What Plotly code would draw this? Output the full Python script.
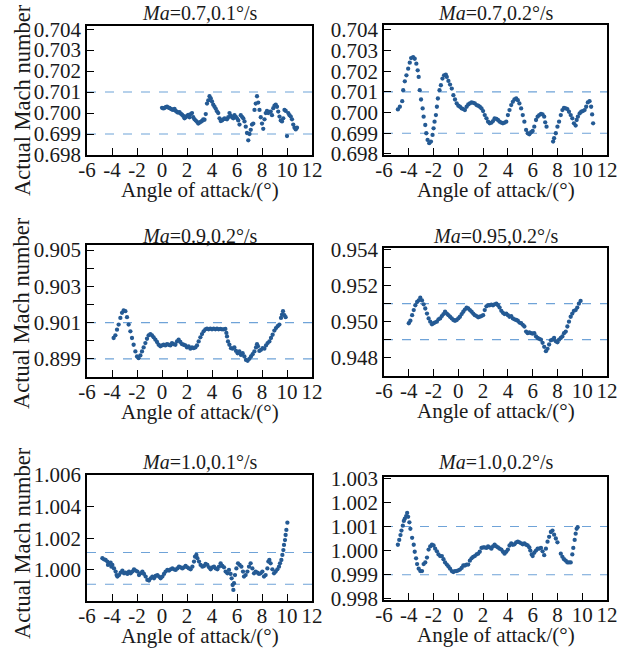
import plotly.graph_objects as go

# ---------------- data ----------------
titles = ["<i>Ma</i>=0.7,0.1°/s", "<i>Ma</i>=0.7,0.2°/s", "<i>Ma</i>=0.9,0.2°/s",
          "<i>Ma</i>=0.95,0.2°/s", "<i>Ma</i>=1.0,0.1°/s", "<i>Ma</i>=1.0,0.2°/s"]
x_title = "Angle of attack/(°)"
y_title = "Actual Mach number"
x_ticks = [-6, -4, -2, 0, 2, 4, 6, 8, 10, 12]
x_tick_labels = ["-6", "-4", "-2", "0", "2", "4", "6", "8", "10", "12"]

# tolerance band (upper, lower) per panel
band_upper = [0.701, 0.701, 0.901, 0.951, 1.0011, 1.001]
band_lower = [0.699, 0.699, 0.899, 0.949, 0.9991, 0.999]

p1_x = [0.0, 0.1, 0.2, 0.3, 0.4, 0.5, 0.6, 0.7, 0.8, 0.9, 1.0, 1.1, 1.2, 1.3, 1.4, 1.5, 1.6, 1.7, 1.8, 1.9,
        2.0, 2.1, 2.2, 2.3, 2.4, 2.5, 2.6, 2.7, 2.8, 2.9, 3.0, 3.1, 3.2, 3.3, 3.4, 3.5, 3.6, 3.7, 3.8, 3.9,
        4.0, 4.1, 4.2, 4.3, 4.4, 4.5, 4.6, 4.7, 4.8, 4.9, 5.0, 5.1, 5.2, 5.3, 5.4, 5.5, 5.6, 5.7, 5.8, 5.9,
        6.0, 6.1, 6.2, 6.3, 6.4, 6.5, 6.6, 6.7, 6.8, 6.9, 7.0, 7.1, 7.2, 7.3, 7.4, 7.5, 7.6, 7.7, 7.8, 7.9,
        8.0, 8.1, 8.2, 8.3, 8.4, 8.5, 8.6, 8.7, 8.8, 8.9, 9.0, 9.1, 9.2, 9.3, 9.4, 9.5, 9.6, 9.7, 9.8, 9.9,
        10.0, 10.1, 10.2, 10.3, 10.4, 10.5, 10.6, 10.7, 10.8]
p1_y = [0.70025, 0.70022, 0.70024, 0.70028, 0.70030, 0.70026, 0.70024, 0.70020, 0.70017, 0.70015,
        0.70020, 0.70010, 0.70005, 0.70002, 0.70004, 0.69997, 0.69992, 0.69986, 0.69975, 0.69980,
        0.69986, 0.69991, 0.69980, 0.69995, 0.70000, 0.69980, 0.69970, 0.69964, 0.69958, 0.69950,
        0.69954, 0.69958, 0.69962, 0.69970, 0.69968, 0.69995, 0.70045, 0.70060, 0.70080, 0.70070,
        0.70055, 0.70040, 0.70030, 0.70020, 0.70008, 0.70000, 0.69975, 0.69962, 0.69965, 0.69970,
        0.69975, 0.69972, 0.69970, 0.69980, 0.70000, 0.69988, 0.69980, 0.69975, 0.69990, 0.69982,
        0.69975, 0.69965, 0.69945, 0.69990, 0.69982, 0.69975, 0.69960, 0.69935, 0.69905, 0.69870,
        0.69900, 0.69920, 0.69945, 0.69950, 0.70015, 0.70045, 0.70080, 0.70050, 0.70015, 0.69980,
        0.69950, 0.69925, 0.69970, 0.70000, 0.70010, 0.70000, 0.70005, 0.70007, 0.69990, 0.70023,
        0.70035, 0.70040, 0.70030, 0.70007, 0.69983, 0.69965, 0.69960, 0.69975, 0.70015, 0.70010,
        0.69890, 0.70000, 0.69990, 0.69983, 0.69970, 0.69945, 0.69930, 0.69922, 0.69930]

p2_x = [-4.88, -4.72, -4.53, -4.45, -4.32, -4.19, -4.05, -3.92, -3.81, -3.65, -3.52, -3.39, -3.28, -3.20,
        -3.12, -3.01, -2.88, -2.80, -2.67, -2.59, -2.48, -2.35, -2.21, -2.08, -2.00, -1.92, -1.81, -1.73,
        -1.65, -1.52, -1.41, -1.28, -1.15, -1.01, -0.93, -0.80, -0.67, -0.53, -0.40, -0.27, -0.13, 0.00,
        0.13, 0.27, 0.40, 0.53, 0.67, 0.80, 0.93, 1.07, 1.20, 1.33, 1.47, 1.60, 1.73, 1.87, 2.00, 2.13,
        2.27, 2.40, 2.53, 2.67, 2.80, 2.93, 3.07, 3.20, 3.33, 3.47, 3.60, 3.73, 3.87, 4.00, 4.13, 4.27,
        4.40, 4.53, 4.67, 4.80, 4.93, 5.07, 5.20, 5.33, 5.47, 5.60, 5.73, 5.87, 6.00, 6.13, 6.27, 6.40,
        6.53, 6.67, 6.80, 6.93, 7.01, 7.12, 7.65, 7.73, 7.87, 8.00, 8.13, 8.27, 8.40, 8.53, 8.67, 8.80,
        8.93, 9.07, 9.20, 9.33, 9.47, 9.55, 9.65, 9.79, 9.92, 10.05, 10.19, 10.32, 10.45, 10.59, 10.72,
        10.80, 10.88]
p2_y = [0.70015, 0.70028, 0.70055, 0.70108, 0.70151, 0.70180, 0.70212, 0.70241, 0.70263, 0.70268, 0.70260,
        0.70236, 0.70204, 0.70172, 0.70108, 0.70063, 0.70020, 0.69980, 0.69940, 0.69900, 0.69868, 0.69852,
        0.69860, 0.69892, 0.69924, 0.69956, 0.69988, 0.70028, 0.70068, 0.70108, 0.70132, 0.70164, 0.70180,
        0.70183, 0.70172, 0.70153, 0.70135, 0.70116, 0.70084, 0.70063, 0.70044, 0.70033, 0.70028, 0.70020,
        0.70017, 0.70012, 0.70028, 0.70039, 0.70044, 0.70049, 0.70047, 0.70044, 0.70036, 0.70033, 0.70028,
        0.70020, 0.70007, 0.69988, 0.69972, 0.69956, 0.69948, 0.69951, 0.69959, 0.69972, 0.69969, 0.69964,
        0.69956, 0.69951, 0.69948, 0.69951, 0.69956, 0.69988, 0.70012, 0.70036, 0.70052, 0.70063, 0.70068,
        0.70060, 0.70044, 0.70020, 0.69988, 0.69956, 0.69916, 0.69900, 0.69895, 0.69905, 0.69911, 0.69932,
        0.69964, 0.69980, 0.69988, 0.69993, 0.69991, 0.69980, 0.69953, 0.69932, 0.69860, 0.69876, 0.69900,
        0.69932, 0.69956, 0.69988, 0.70012, 0.70023, 0.70020, 0.70017, 0.70004, 0.69988, 0.69972, 0.69948,
        0.69937, 0.69964, 0.69980, 0.69996, 0.70004, 0.70007, 0.70012, 0.70028, 0.70049, 0.70055, 0.70028,
        0.69991, 0.69948]

p3_x = [-3.87, -3.73, -3.60, -3.47, -3.33, -3.20, -3.07, -2.93, -2.80, -2.67, -2.53, -2.40, -2.27, -2.13,
        -2.00, -1.87, -1.73, -1.60, -1.47, -1.33, -1.20, -1.07, -0.93, -0.80, -0.67, -0.53, -0.40, -0.27,
        -0.13, 0.00, 0.13, 0.27, 0.40, 0.53, 0.67, 0.80, 0.93, 1.07, 1.20, 1.33, 1.47, 1.60, 1.73, 1.87,
        2.00, 2.13, 2.27, 2.40, 2.53, 2.67, 2.80, 2.93, 3.07, 3.20, 3.33, 3.47, 3.60, 3.73, 3.87, 4.00,
        4.13, 4.27, 4.40, 4.53, 4.67, 4.80, 4.93, 5.07, 5.15, 5.20, 5.28, 5.39, 5.52, 5.65, 5.79, 5.92,
        6.05, 6.19, 6.32, 6.45, 6.59, 6.72, 6.85, 6.99, 7.12, 7.25, 7.39, 7.52, 7.60, 7.68, 7.79, 7.92,
        8.05, 8.19, 8.32, 8.45, 8.59, 8.72, 8.85, 8.99, 9.12, 9.25, 9.39, 9.52, 9.60, 9.68, 9.79, 9.89]
p3_y = [0.90015, 0.90030, 0.90061, 0.90089, 0.90126, 0.90154, 0.90167, 0.90163, 0.90130, 0.90089, 0.90052,
        0.90015, 0.89978, 0.89941, 0.89913, 0.89904, 0.89919, 0.89941, 0.89963, 0.89987, 0.90011, 0.90030,
        0.90037, 0.90030, 0.90019, 0.90006, 0.89993, 0.89978, 0.89969, 0.89974, 0.89978, 0.89974, 0.89981,
        0.89978, 0.89974, 0.89987, 0.89981, 0.89978, 0.89996, 0.90006, 0.89993, 0.89981, 0.89978, 0.89974,
        0.89963, 0.89969, 0.89956, 0.89963, 0.89959, 0.89963, 0.89974, 0.89996, 0.90019, 0.90037, 0.90052,
        0.90063, 0.90067, 0.90063, 0.90067, 0.90063, 0.90067, 0.90063, 0.90067, 0.90063, 0.90065, 0.90063,
        0.90063, 0.90065, 0.90043, 0.90024, 0.89996, 0.89978, 0.89959, 0.89956, 0.89963, 0.89944, 0.89931,
        0.89941, 0.89922, 0.89931, 0.89913, 0.89894, 0.89889, 0.89900, 0.89913, 0.89926, 0.89941, 0.89963,
        0.89981, 0.89969, 0.89944, 0.89950, 0.89959, 0.89956, 0.89974, 0.89987, 0.89996, 0.90015, 0.90033,
        0.90056, 0.90070, 0.90080, 0.90089, 0.90126, 0.90144, 0.90163, 0.90141, 0.90130]

p4_x = [-4.00, -3.87, -3.73, -3.60, -3.47, -3.33, -3.20, -3.07, -2.93, -2.80, -2.67, -2.53, -2.40, -2.27,
        -2.13, -2.00, -1.87, -1.73, -1.60, -1.47, -1.33, -1.20, -1.07, -0.93, -0.80, -0.67, -0.53, -0.40,
        -0.27, -0.13, 0.00, 0.13, 0.27, 0.40, 0.53, 0.67, 0.80, 0.93, 1.07, 1.20, 1.33, 1.47, 1.60, 1.73,
        1.87, 2.00, 2.13, 2.27, 2.40, 2.53, 2.67, 2.80, 2.93, 3.07, 3.20, 3.33, 3.47, 3.60, 3.73, 3.87,
        4.00, 4.13, 4.27, 4.40, 4.53, 4.67, 4.80, 4.93, 5.07, 5.20, 5.33, 5.47, 5.60, 5.73, 5.87, 6.00,
        6.13, 6.27, 6.40, 6.53, 6.67, 6.80, 6.93, 7.07, 7.20, 7.33, 7.47, 7.60, 7.73, 7.87, 8.00, 8.13,
        8.27, 8.40, 8.53, 8.67, 8.80, 8.93, 9.07, 9.20, 9.33, 9.47, 9.60, 9.73, 9.87]
p4_y = [0.94991, 0.95005, 0.95036, 0.95064, 0.95091, 0.95109, 0.95118, 0.95133, 0.95118, 0.95096, 0.95073,
        0.95045, 0.95018, 0.95000, 0.94985, 0.94991, 0.94996, 0.95000, 0.95013, 0.95018, 0.95031, 0.95042,
        0.95055, 0.95045, 0.95036, 0.95027, 0.95018, 0.95009, 0.95005, 0.95009, 0.95018, 0.95027, 0.95042,
        0.95055, 0.95067, 0.95078, 0.95073, 0.95064, 0.95055, 0.95045, 0.95036, 0.95031, 0.95024, 0.95027,
        0.95031, 0.95036, 0.95064, 0.95085, 0.95091, 0.95091, 0.95095, 0.95091, 0.95096, 0.95100, 0.95091,
        0.95078, 0.95060, 0.95049, 0.95042, 0.95045, 0.95036, 0.95027, 0.95031, 0.95018, 0.95013, 0.95009,
        0.95005, 0.94995, 0.94991, 0.94982, 0.94973, 0.94945, 0.94936, 0.94940, 0.94936, 0.94933, 0.94936,
        0.94918, 0.94909, 0.94904, 0.94900, 0.94882, 0.94860, 0.94836, 0.94849, 0.94873, 0.94896, 0.94900,
        0.94909, 0.94891, 0.94885, 0.94900, 0.94909, 0.94918, 0.94936, 0.94945, 0.94973, 0.95000, 0.95027,
        0.95045, 0.95060, 0.95064, 0.95078, 0.95100, 0.95115]

p5_x = [-4.77, -4.64, -4.51, -4.37, -4.32, -4.24, -4.11, -4.05, -3.97, -3.84, -3.71, -3.63, -3.57, -3.44,
        -3.31, -3.17, -3.04, -2.91, -2.77, -2.64, -2.51, -2.37, -2.24, -2.11, -1.97, -1.84, -1.71, -1.57,
        -1.44, -1.31, -1.17, -1.04, -0.91, -0.77, -0.64, -0.51, -0.37, -0.24, -0.11, 0.03, 0.16, 0.29,
        0.43, 0.56, 0.69, 0.83, 0.96, 1.09, 1.23, 1.36, 1.49, 1.63, 1.76, 1.89, 2.03, 2.16, 2.29, 2.43,
        2.56, 2.64, 2.75, 2.83, 2.96, 3.09, 3.23, 3.36, 3.49, 3.63, 3.76, 3.89, 4.03, 4.16, 4.29, 4.43,
        4.56, 4.69, 4.83, 4.96, 5.09, 5.23, 5.36, 5.49, 5.57, 5.65, 5.71, 5.76, 5.84, 5.95, 6.08, 6.21,
        6.35, 6.48, 6.56, 6.69, 6.83, 6.96, 7.09, 7.23, 7.36, 7.49, 7.63, 7.76, 7.89, 8.03, 8.16, 8.29,
        8.43, 8.51, 8.59, 8.69, 8.83, 8.96, 9.09, 9.23, 9.36, 9.44, 9.55, 9.63, 9.71, 9.76, 9.84, 9.89,
        9.95, 10.03]
p5_y = [1.00074, 1.00067, 1.00063, 1.00053, 1.00032, 1.00042, 1.00046, 1.00021, 1.00032, 1.00010, 0.99990,
        0.99968, 0.99958, 0.99968, 0.99983, 0.99996, 0.99979, 0.99983, 0.99975, 0.99990, 0.99979, 0.99990,
        1.00004, 0.99996, 0.99990, 0.99968, 0.99979, 0.99990, 0.99975, 0.99958, 0.99937, 0.99933, 0.99947,
        0.99958, 0.99947, 0.99962, 0.99968, 0.99958, 0.99947, 0.99958, 0.99975, 0.99990, 1.00000, 0.99996,
        1.00004, 1.00010, 1.00004, 1.00000, 1.00010, 1.00021, 1.00017, 1.00010, 1.00017, 1.00025, 1.00017,
        1.00010, 1.00004, 1.00021, 1.00053, 1.00084, 1.00095, 1.00074, 1.00053, 1.00032, 1.00021, 1.00025,
        1.00038, 1.00032, 1.00017, 1.00004, 1.00017, 1.00021, 1.00010, 1.00004, 1.00021, 1.00042, 1.00025,
        1.00017, 0.99990, 0.99979, 1.00000, 0.99975, 0.99947, 0.99905, 0.99874, 0.99916, 0.99968, 1.00010,
        1.00042, 1.00032, 1.00021, 0.99990, 0.99958, 0.99968, 0.99990, 1.00021, 1.00042, 1.00010, 0.99979,
        0.99990, 0.99983, 0.99975, 0.99979, 0.99990, 0.99958, 0.99968, 1.00010, 1.00053, 1.00063, 1.00042,
        1.00004, 0.99979, 0.99990, 1.00004, 1.00021, 1.00042, 1.00063, 1.00095, 1.00126, 1.00158, 1.00189,
        1.00221, 1.00253, 1.00299]

p6_x = [-4.88, -4.77, -4.67, -4.59, -4.48, -4.40, -4.32, -4.21, -4.13, -4.05, -3.95, -3.87, -3.73, -3.60,
        -3.52, -3.41, -3.33, -3.20, -3.07, -2.93, -2.80, -2.67, -2.53, -2.40, -2.27, -2.13, -2.00, -1.87,
        -1.73, -1.60, -1.47, -1.33, -1.20, -1.07, -0.93, -0.80, -0.67, -0.53, -0.40, -0.27, -0.13, 0.00,
        0.13, 0.27, 0.40, 0.53, 0.67, 0.80, 0.93, 1.07, 1.20, 1.33, 1.47, 1.60, 1.73, 1.87, 2.00, 2.13,
        2.27, 2.40, 2.53, 2.67, 2.80, 2.93, 3.07, 3.20, 3.33, 3.47, 3.60, 3.73, 3.87, 4.00, 4.13, 4.27,
        4.40, 4.53, 4.67, 4.80, 4.93, 5.07, 5.20, 5.33, 5.47, 5.60, 5.73, 5.81, 5.92, 6.00, 6.13, 6.27,
        6.40, 6.53, 6.67, 6.80, 6.93, 7.07, 7.20, 7.33, 7.47, 7.60, 7.73, 7.87, 8.00, 8.27, 8.40, 8.53,
        8.67, 8.80, 8.93, 9.07, 9.20, 9.28, 9.39, 9.47, 9.55, 9.63]
p6_y = [1.00024, 1.00044, 1.00064, 1.00083, 1.00103, 1.00123, 1.00132, 1.00143, 1.00156, 1.00140, 1.00117,
        1.00090, 1.00053, 1.00024, 0.99995, 0.99968, 0.99944, 0.99925, 0.99915, 0.99915, 0.99944, 0.99951,
        0.99971, 1.00004, 1.00017, 1.00024, 1.00021, 1.00008, 0.99997, 0.99984, 0.99977, 0.99977, 0.99964,
        0.99951, 0.99942, 0.99934, 0.99925, 0.99915, 0.99911, 0.99915, 0.99915, 0.99918, 0.99921, 0.99928,
        0.99938, 0.99938, 0.99942, 0.99942, 0.99958, 0.99968, 0.99974, 0.99977, 0.99984, 0.99987, 0.99995,
        1.00011, 1.00013, 1.00013, 1.00011, 1.00017, 1.00013, 1.00008, 1.00017, 1.00024, 1.00017, 1.00013,
        1.00008, 1.00004, 0.99995, 0.99987, 0.99995, 1.00004, 1.00021, 1.00030, 1.00024, 1.00026, 1.00034,
        1.00037, 1.00034, 1.00030, 1.00026, 1.00030, 1.00024, 1.00021, 1.00013, 1.00000, 0.99984, 0.99977,
        0.99991, 1.00000, 1.00008, 1.00008, 1.00011, 0.99997, 0.99981, 1.00008, 1.00037, 1.00057, 1.00077,
        1.00083, 1.00066, 1.00050, 1.00034, 0.99987, 0.99974, 0.99964, 0.99958, 0.99951, 0.99951, 0.99951,
        0.99984, 1.00011, 1.00044, 1.00070, 1.00090, 1.00097]

xs = [p1_x, p2_x, p3_x, p4_x, p5_x, p6_x]
ys = [p1_y, p2_y, p3_y, p4_y, p5_y, p6_y]

# ---------------- styling / layout ----------------
W, H = 632, 650
FONT = "Liberation Serif, Times New Roman, serif"
TXT = "#1a1a1a"
DOT = "#245a94"
BAND = "#6fa3d8"
FS = 21

# box pixel positions: left, right, top, bottom
boxes = [(87, 312, 26, 155), (384, 607, 25, 155),
         (87, 312, 245, 377), (384, 607, 248, 376),
         (87, 312, 475, 601), (384, 607, 477, 600)]
y_ranges = [(0.698, 0.70415), (0.69795, 0.70423), (0.898, 0.90528),
            (0.94698, 0.95409), (0.99804, 1.006), (0.99795, 1.00305)]
y_tick0 = [0.698, 0.698, 0.899, 0.948, 0.998, 0.998]
y_dtick = [0.001, 0.001, 0.002, 0.002, 0.002, 0.001]
y_minor = [None, None, 0.898, 0.947, None, None]
title_y = [13, 13, 236, 236, 462, 462]
ytitle_y = [100, None, 313, None, 543, None]

fig = go.Figure()
layout = dict(template="none", width=W, height=H, margin=dict(l=0, r=0, t=0, b=0, pad=0),
              autosize=False, paper_bgcolor="white", plot_bgcolor="white", showlegend=False,
              font=dict(family=FONT, size=FS, color=TXT))
annotations = []
shapes = []

for i in range(6):
    n = i + 1
    L, R, T, B = boxes[i]
    xd = [L / W, R / W]
    yd = [1 - B / H, 1 - T / H]
    xa = "x" if n == 1 else f"x{n}"
    ya = "y" if n == 1 else f"y{n}"
    fig.add_trace(go.Scatter(x=xs[i], y=ys[i], mode="markers", xaxis=xa, yaxis=ya,
                             marker=dict(size=4.3, color=DOT, line=dict(width=0)),
                             hoverinfo="skip"))
    xkey = "xaxis" if n == 1 else f"xaxis{n}"
    ykey = "yaxis" if n == 1 else f"yaxis{n}"
    layout[xkey] = dict(domain=xd, anchor=ya, range=[-6, 12], tickvals=x_ticks, ticktext=x_tick_labels,
                        tickangle=0, ticks="inside", ticklen=7, tickwidth=1.2, tickcolor="black",
                        ticklabelstandoff=-5,
                        showline=True, linecolor="black", linewidth=1.5, mirror=True,
                        showgrid=False, zeroline=False, automargin=False,
                        tickfont=dict(family=FONT, size=FS, color=TXT))
    yax = dict(domain=yd, anchor=xa, range=list(y_ranges[i]), tick0=y_tick0[i], dtick=y_dtick[i],
               tickformat=".3f", ticks="inside", ticklen=7, tickwidth=1.2, tickcolor="black",
               showline=True, linecolor="black", linewidth=1.5, mirror=True,
               showgrid=False, zeroline=False, automargin=False,
               tickfont=dict(family=FONT, size=FS, color=TXT))
    if y_minor[i] is not None:
        yax["minor"] = dict(tick0=y_minor[i], dtick=0.001, ticks="inside", ticklen=7,
                            tickwidth=1.2, tickcolor="black", showgrid=False)
    layout[ykey] = yax

    for val in (band_upper[i], band_lower[i]):
        shapes.append(dict(type="line", xref=f"{xa} domain", x0=0, x1=1, yref=ya, y0=val, y1=val,
                           line=dict(color=BAND, width=1.1, dash="dash"), layer="below"))

    cx = (L + R) / 2 / W
    annotations.append(dict(text=titles[i], x=cx, y=1 - title_y[i] / H, xref="paper", yref="paper",
                            xanchor="center", yanchor="middle", showarrow=False,
                            font=dict(family=FONT, size=20, color=TXT)))
    annotations.append(dict(text=x_title, x=cx, y=1 - (B + 35) / H, xref="paper", yref="paper",
                            xanchor="center", yanchor="middle", showarrow=False,
                            font=dict(family=FONT, size=FS, color=TXT)))
    if ytitle_y[i] is not None:
        annotations.append(dict(text=y_title, x=22 / W, y=1 - ytitle_y[i] / H,
                                xref="paper", yref="paper", textangle=-90,
                                xanchor="center", yanchor="middle", showarrow=False,
                                font=dict(family=FONT, size=22.5, color=TXT)))

layout["annotations"] = annotations
layout["shapes"] = shapes
fig.update_layout(**layout)
fig.write_html("out.html", config={"displayModeBar": False},
               post_script="document.body.style.margin='0';document.body.style.overflow='hidden';")
